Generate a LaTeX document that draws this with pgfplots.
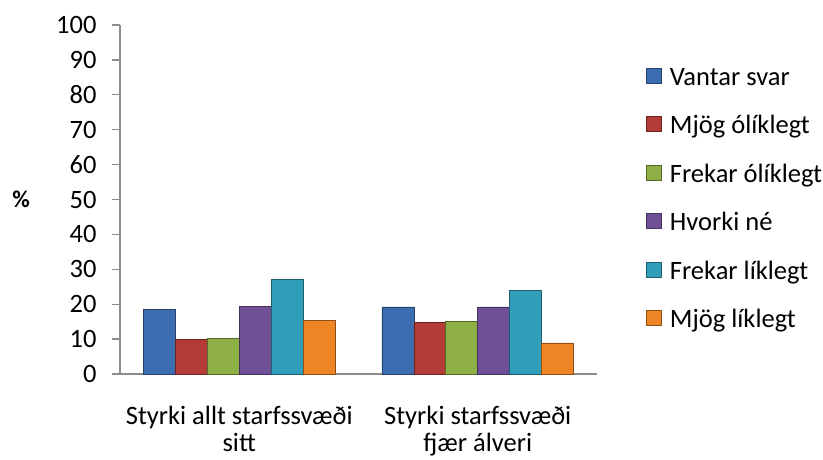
\documentclass[border=0pt]{standalone}
\usepackage{pgfplots}
\pgfplotsset{compat=1.18}
\usepackage{fontspec}
\setmainfont{Carlito}
\definecolor{cblue}{HTML}{3C6DB0}
\definecolor{cred}{HTML}{B43C38}
\definecolor{cgreen}{HTML}{8DAF45}
\definecolor{cpurple}{HTML}{6F5097}
\definecolor{ccyan}{HTML}{309DB9}
\definecolor{corange}{HTML}{EE8424}
\definecolor{axgray}{HTML}{8C8C8C}
\begin{document}
\begin{tikzpicture}
\useasboundingbox (-120pt,-85pt) rectangle (703pt,374pt);
\begin{axis}[
  anchor=south west, at={(0pt,0pt)},
  scale only axis, width=477pt, height=349pt,
  ybar=0pt, bar width=0.134,
  xmin=-0.5, xmax=1.5, ymin=0, ymax=100,
  xtick={0,1},
  xticklabels={Styrki allt starfssvæði\\sitt, Styrki starfssvæði\\fjær álveri},
  xticklabel style={align=center, font=\fontsize{26.5}{27}\selectfont, inner sep=0pt, yshift=-24pt},
  x tick style={draw=none},
  ytick={0,10,...,100},
  yticklabel style={font=\fontsize{26.5}{30}\selectfont, xshift=-12pt},
  /pgf/number format/assume math mode=true,
  axis x line=bottom, axis y line=left,
  axis line style={axgray, line width=1.3pt, -},
  y tick style={axgray, line width=1.3pt},
  tick align=outside, major tick length=8pt,
  ylabel={\textbf{\%}}, ylabel style={rotate=-90, font=\fontsize{24}{26}\selectfont, at={(axis description cs:-0.2075,0.5)}, anchor=center},
  legend cell align=left,
  legend style={draw=none, fill=none, font=\fontsize{26.5}{30}\selectfont, at={(1.103,0.882)}, anchor=north west, row sep=23.5pt, inner sep=0pt,
    nodes={text height=19pt, text depth=6pt, inner sep=0pt},
    /tikz/every odd column/.append style={column sep=8pt}},
  legend image code/.code={\fill[#1] (0pt,-4pt) rectangle (15pt,11pt);},
  every axis plot/.append style={line width=0.6pt},
]
\addplot[fill=cblue, draw=cblue!60!black] coordinates {(0,18.6) (1,19.2)};
\addplot[fill=cred, draw=cred!60!black] coordinates {(0,10.0) (1,14.9)};
\addplot[fill=cgreen, draw=cgreen!60!black] coordinates {(0,10.3) (1,15.1)};
\addplot[fill=cpurple, draw=cpurple!60!black] coordinates {(0,19.4) (1,19.2)};
\addplot[fill=ccyan, draw=ccyan!60!black] coordinates {(0,27.1) (1,24.0)};
\addplot[fill=corange, draw=corange!60!black] coordinates {(0,15.4) (1,8.9)};
\legend{Vantar svar, Mjög ólíklegt, Frekar ólíklegt, Hvorki né, Frekar líklegt, Mjög líklegt}
\end{axis}
\end{tikzpicture}
\end{document}
